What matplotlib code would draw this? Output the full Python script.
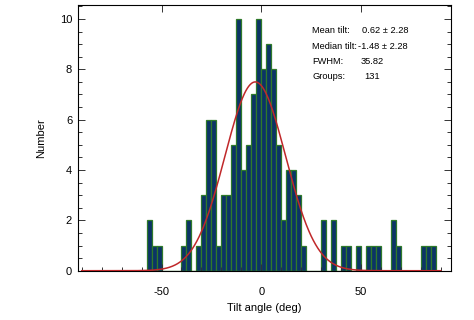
import numpy as np
import matplotlib.pyplot as plt
from matplotlib.ticker import MultipleLocator

plt.rcParams['font.family'] = ['Liberation Sans', 'DejaVu Sans']
plt.rcParams['axes.unicode_minus'] = False

# histogram of tilt angles, 2.5 deg bins
bin_left = [-57.5, -55, -52.5, -40, -37.5, -32.5,
            -30, -27.5, -25, -22.5, -20, -17.5, -15, -12.5, -10, -7.5, -5,
            -2.5, 0, 2.5, 5, 7.5, 10, 12.5, 15, 17.5, 20,
            30, 35, 40, 42.5, 47.5, 52.5, 55, 57.5, 65, 67.5, 80, 82.5, 85]
counts = [2, 1, 1, 1, 2, 1,
          3, 6, 6, 1, 3, 3, 5, 10, 4, 5, 7,
          10, 8, 9, 8, 5, 2, 4, 4, 3, 1,
          2, 2, 1, 1, 1, 1, 1, 1, 2, 1, 1, 1, 1]
bin_width = 2.5

# gaussian fit
g_amp = 7.5
g_center = -3.0
g_fwhm = 35.82

stats_labels = ['Mean tilt:', 'Median tilt:', 'FWHM:', 'Groups:']
stats_values = ['0.62 \u00b1 2.28', '-1.48 \u00b1 2.28', '35.82', '131']
value_x = [0.763, 0.752, 0.759, 0.767]

fig = plt.figure(figsize=(4.74, 3.2), dpi=100)
ax = fig.add_axes([0.164, 0.154, 0.787, 0.830])

ax.bar(bin_left, counts, width=bin_width, align='edge',
       color='#0b3466', edgecolor='#2f7a2a', linewidth=0.9)
# empty bins show the green baseline
ax.plot([-57.5, 87.5], [0, 0], color='#2f7a2a', lw=1.0, zorder=1)

sig = g_fwhm / (2 * np.sqrt(2 * np.log(2)))
xg = np.linspace(-90, 90, 500)
ax.plot(xg, g_amp * np.exp(-0.5 * ((xg - g_center) / sig) ** 2),
        color='#c0282a', lw=1.1, zorder=3)

ax.set_xlim(-92, 95)
ax.set_ylim(0, 10.55)
ax.xaxis.set_major_locator(MultipleLocator(50))
ax.xaxis.set_minor_locator(MultipleLocator(10))
ax.yaxis.set_major_locator(MultipleLocator(2))
ax.yaxis.set_minor_locator(MultipleLocator(0.5))
ax.tick_params(which='both', direction='in', top=True, right=True,
               labelsize=8, width=0.7, color='#333333')
ax.tick_params(which='major', length=5, pad=4)
ax.tick_params(which='minor', length=3)
ax.tick_params(axis='x', which='major', pad=12)
ax.tick_params(axis='x', which='minor', top=False)
for s in ax.spines.values():
    s.set_linewidth(0.8)

ax.set_xlabel('Tilt angle (deg)', fontsize=8, labelpad=4)
ax.set_ylabel('Number', fontsize=8, labelpad=10)

for i, (lab, val) in enumerate(zip(stats_labels, stats_values)):
    y = 0.903 - i * 0.0577
    ax.text(0.628, y, lab, transform=ax.transAxes, fontsize=6.7, va='center')
    ax.text(value_x[i], y, val, transform=ax.transAxes,
            fontsize=6.7, va='center')

fig.savefig('out.png', dpi=100)
